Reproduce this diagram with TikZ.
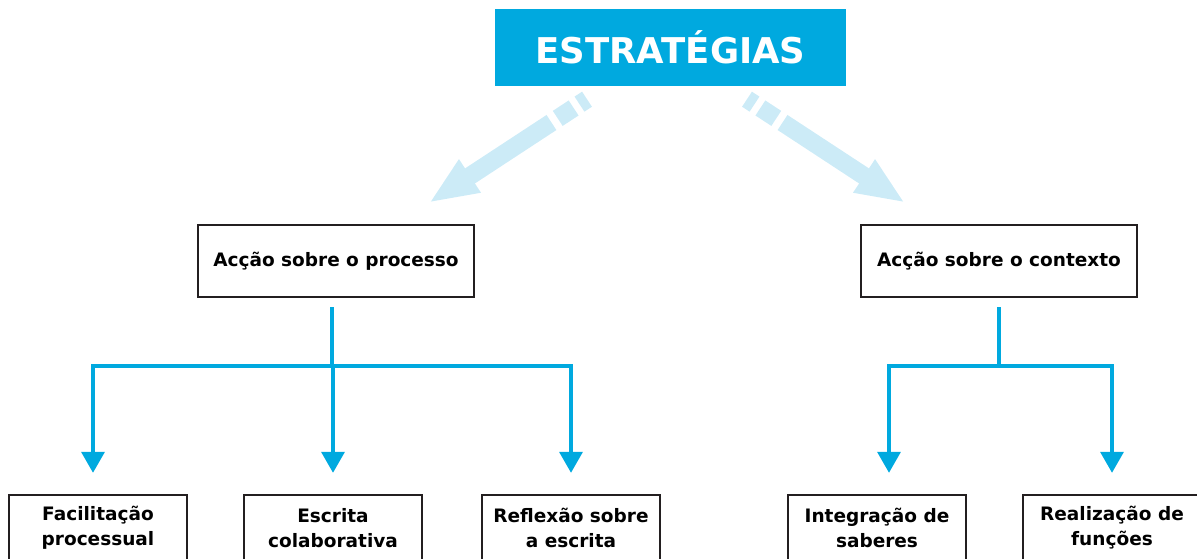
\documentclass[tikz,border=0pt]{standalone}
\usepackage{fontspec}
\setmainfont{DejaVu Sans}
\usetikzlibrary{arrows.meta}
\definecolor{stratblue}{HTML}{00A9DF}
\definecolor{paleblue}{HTML}{CCEBF7}
\definecolor{boxline}{HTML}{231F20}
\tikzset{
	title box/.style={
		fill=stratblue,
		text=white,
		font=\bfseries\fontsize{35.5}{40}\selectfont,
		minimum width=351pt,
		minimum height=77pt,
		inner sep=0pt
	},
	topic box/.style={
		draw=boxline,
		line width=2.4pt,
		font=\bfseries\fontsize{18.5}{25}\selectfont,
		minimum width=276pt,
		minimum height=72pt,
		inner sep=0pt
	},
	leaf box/.style={
		draw=boxline,
		line width=2.4pt,
		align=center,
		font=\bfseries\fontsize{18.5}{25}\selectfont,
		minimum width=178pt,
		minimum height=66pt,
		inner sep=0pt
	},
	fade arrow/.style={
		draw=paleblue,
		line width=18pt,
		dash pattern=on 9pt off 7pt on 19pt off 7.5pt on 400pt off 0pt,
		-{Triangle[length=49pt,width=36pt]}
	},
	flow/.style={
		draw=stratblue,
		line width=3.5pt
	},
}

\begin{document}
\begin{tikzpicture}[x=1pt, y=-1pt, >={Triangle[length=21pt,width=23pt]}]
\useasboundingbox (0,0) rectangle (1197,559);

\node [title box] (strat) at (670.5,47.5) {ESTRATÉGIAS};

\node [topic box] (proc) at (336,261) {Acção sobre o processo};
\node [topic box] (ctx) at (999,261) {Acção sobre o contexto};

\foreach \n/\x/\l in {facil/98/{Facilitação\\processual},
		escr/333/{Escrita\\colaborativa},
		refl/571/{Reflexão sobre\\a escrita},
		integ/877/{Integração de\\saberes},
		real/1112/{Realização de\\funções}}
	\node [leaf box] (\n) at (\x,528) {\l};

% pale arrows out of the title
\draw [fade arrow] ([xshift=-83.5pt,yshift=-13pt]strat.south)
	-- ([xshift=93pt,yshift=21pt]proc.north);
\draw [fade arrow] ([xshift=76.5pt,yshift=-13pt]strat.south)
	-- ([xshift=-94pt,yshift=21pt]ctx.north);

% branches
\draw [flow] ([xshift=-4pt,yshift=-9pt]proc.south) -- ++(0,59) coordinate (procbus);
\draw [flow, ->, shorten >=21pt] (procbus) -| ([xshift=-5pt]facil.north);
\foreach \n in {escr, refl}
	\draw [flow, ->, shorten >=21pt] (procbus) -| (\n.north);

\draw [flow] ([yshift=-9pt]ctx.south) -- ++(0,59) coordinate (ctxbus);
\draw [flow, ->, shorten >=21pt] (ctxbus) -| ([xshift=12pt]integ.north);
\draw [flow, ->, shorten >=21pt] (ctxbus) -| (real.north);

\end{tikzpicture}
\end{document}
